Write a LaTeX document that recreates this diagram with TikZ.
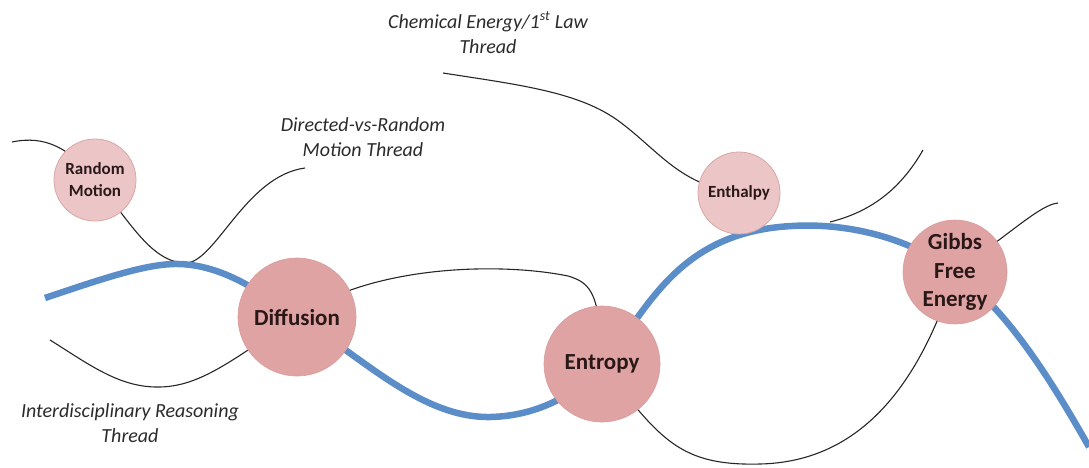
\documentclass[tikz,border=0pt]{standalone}
\usepackage{fontspec}
\setmainfont{Carlito}
\definecolor{ballD}{HTML}{DFA3A3}
\definecolor{ballDb}{HTML}{D89C9C}
\definecolor{ballL}{HTML}{ECC6C6}
\definecolor{ballLb}{HTML}{D9A6A6}
\definecolor{thread}{HTML}{5B8EC8}
\definecolor{txt}{HTML}{2A1818}
\definecolor{lbl}{HTML}{2B2B2B}
\tikzset{
  bigball/.style={circle, fill=ballD, draw=ballDb, line width=0.6pt, inner sep=0pt, text=txt, align=center, font=\fontsize{23}{28.5}\selectfont\bfseries},
  smallball/.style={circle, fill=ballL, draw=ballLb, line width=0.8pt, inner sep=0pt, text=txt, align=center, font=\fontsize{17}{22}\selectfont\bfseries},
  thin/.style={line width=1.1pt, black!85},
  main/.style={line width=6.5pt, thread},
  caption/.style={align=center, text=lbl, font=\fontsize{20}{25.5}\selectfont\itshape}
}
\begin{document}
\begin{tikzpicture}[x=1pt,y=-1pt]
\useasboundingbox (0,0) rectangle (1089,467);
% coordinates
\coordinate (rmc) at (95,180);
\coordinate (difc) at (297,317);
\coordinate (entc) at (602,364);
\coordinate (enthc) at (739,193);
\coordinate (gibc) at (955,272);
\coordinate (a0) at (12,142);
\coordinate (a1) at (305,168);
\coordinate (c0) at (50,340);
\coordinate (e0) at (443,73);
\coordinate (f0) at (830,222);
\coordinate (f1) at (923,150);
\coordinate (g1) at (1058,203);
\coordinate (b0) at (45,298);
\coordinate (b1) at (1089,447);
% thin threads
\draw[thin] (a0) .. controls (45,135) and (70,148) .. (rmc);
\draw[thin] (rmc) .. controls (128,218) and (150,262) .. (185,263) .. controls (215,264) and (245,176) .. (a1);
\draw[thin] (difc) .. controls (370,265) and (500,262) .. (568,276) .. controls (592,283) and (600,295) .. (entc);
\draw[thin] (c0) .. controls (90,365) and (120,388) .. (160,387) .. controls (200,386) and (230,362) .. (difc);
\draw[thin] (entc) .. controls (660,440) and (680,466) .. (760,464) .. controls (850,462) and (915,400) .. (gibc);
\draw[thin] (e0) .. controls (520,85) and (580,92) .. (620,122) .. controls (660,152) and (680,185) .. (enthc);
\draw[thin] (f0) .. controls (870,212) and (900,190) .. (f1);
\draw[thin] (gibc) .. controls (1015,230) and (1040,205) .. (g1);
% main thread
\draw[main] (b0) .. controls (110,276) and (150,263) .. (180,264)
  .. controls (230,266) and (270,300) .. (difc)
  .. controls (360,355) and (420,418) .. (490,417)
  .. controls (540,416) and (580,392) .. (entc)
  .. controls (645,318) and (672,232) .. (792,226)
  .. controls (860,222) and (920,245) .. (gibc)
  .. controls (1000,305) and (1040,360) .. (b1);
% nodes
\node[smallball, minimum size=82pt] (rm) at (rmc) {Random\\Motion};
\node[bigball, minimum size=118pt] (dif) at (difc) {Diffusion};
\node[bigball, minimum size=116pt] (ent) at (entc) {Entropy};
\node[smallball, minimum size=82pt] (enth) at (enthc) {Enthalpy};
\node[bigball, minimum size=104pt] (gib) at (gibc) {Gibbs\\Free\\Energy};
% captions
\node[caption] (t1) at (488,33) {Chemical Energy/1\textsuperscript{st} Law\\Thread};
\node[caption] (t2) at (363,137) {Directed-vs-Random\\Motion Thread};
\node[caption] (t3) at (130,423) {Interdisciplinary Reasoning\\Thread};
\end{tikzpicture}
\end{document}
